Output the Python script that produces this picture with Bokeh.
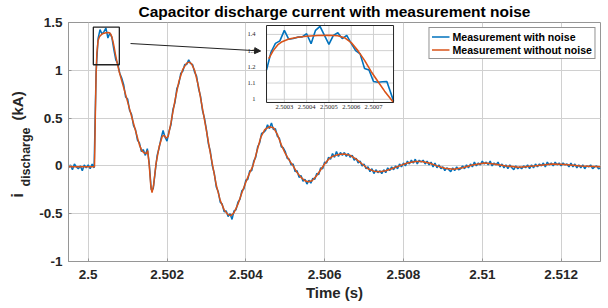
import numpy as np
from bokeh.plotting import figure
from bokeh.models import (Range1d, Legend, LegendItem, FixedTicker, Arrow,
                          NormalHead, Title)
from bokeh.embed import file_html
from bokeh.resources import INLINE

# ---------------- data ----------------
# noisy measurement, sampled every 0.05 ms starting at 2.4995 s
t_start = 2.4995
t_step = 0.00005
i_noisy = [
    -0.02, 0.01, -0.04, 0.02, -0.01, -0.03, 0.00, -0.05, 0.01, -0.02,
    0.01, -0.03, 0.02, -0.02, 0.98, 1.33, 1.425, 1.38, 1.404, 1.44,
    1.338, 1.39, 1.345, 1.22, 1.11, 1.07, 0.97, 0.92, 0.85, 0.72,
    0.70, 0.58, 0.54, 0.42, 0.38, 0.27, 0.24, 0.15, 0.17, 0.11,
    0.18, 0.02, -0.25, -0.24, -0.06, 0.11, 0.19, 0.29, 0.37, 0.30,
    0.26, 0.36, 0.43, 0.59, 0.66, 0.81, 0.86, 0.97, 0.99, 1.06,
    1.06, 1.11, 1.07, 1.06, 0.98, 0.94, 0.81, 0.73, 0.58, 0.50,
    0.38, 0.23, 0.15, 0.00, -0.08, -0.22, -0.27, -0.38, -0.40, -0.48,
    -0.47, -0.53, -0.50, -0.56, -0.47, -0.46, -0.38, -0.35, -0.26, -0.24,
    -0.15, -0.14, -0.05, -0.05, 0.05, 0.09, 0.20, 0.24, 0.34, 0.35,
    0.37, 0.43, 0.39, 0.45, 0.38, 0.39, 0.31, 0.29, 0.20, 0.19,
    0.15, 0.08, 0.07, 0.01, 0.02, -0.06, -0.05, -0.12, -0.10, -0.16,
    -0.14, -0.19, -0.15, -0.18, -0.13, -0.14, -0.08, -0.09, -0.02, -0.03,
    0.04, 0.03, 0.09, 0.07, 0.13, 0.09, 0.15, 0.10, 0.14, 0.11,
    0.14, 0.10, 0.13, 0.09, 0.11, 0.06, 0.08, 0.03, 0.05, 0.00,
    0.02, -0.03, -0.01, -0.06, -0.03, -0.08, -0.04, -0.07, -0.05, -0.08,
    -0.04, -0.07, -0.02, -0.05, -0.01, -0.04, 0.00, -0.03, 0.02, -0.01,
    0.03, 0.00, 0.05, 0.02, 0.06, 0.03, 0.07, 0.02, 0.06, 0.04,
    0.06, 0.02, 0.05, 0.01, 0.04, -0.01, 0.03, -0.02, 0.01, -0.03,
    -0.01, -0.05, -0.02, -0.04, -0.06, -0.02, -0.05, -0.01, -0.04, -0.03,
    0.00, -0.03, 0.01, -0.02, 0.02, -0.01, 0.04, 0.00, 0.03, 0.01,
    0.05, 0.02, 0.04, 0.01, 0.05, 0.00, 0.03, 0.01, 0.04, -0.01,
    0.02, -0.02, 0.01, -0.03, 0.01, -0.02, -0.04, 0.00, -0.03, -0.01,
    -0.03, 0.00, -0.02, 0.01, -0.03, 0.01, -0.02, 0.02, -0.01, 0.02,
    0.00, 0.03, -0.01, 0.04, 0.01, 0.03, 0.00, 0.04, 0.01, 0.03,
    0.00, 0.03, 0.01, 0.02, -0.01, 0.03, -0.01, 0.02, -0.02, 0.01,
    -0.02, 0.01, -0.03, 0.00, -0.01, 0.01, -0.03, -0.01, 0.00, -0.03,
    -0.02,
]

# noise-free measurement: time (ms after 2.5 s) and current (kA)
t_clean_ms = [
    -0.5, 0.16, 0.18, 0.20, 0.22, 0.25, 0.29, 0.36, 0.45, 0.50, 0.54, 0.57,
    0.60, 0.63, 0.66, 0.69, 0.72, 0.75, 0.79, 0.9, 1.0, 1.1, 1.2, 1.3, 1.36,
    1.42, 1.48, 1.51, 1.55, 1.59, 1.62, 1.66, 1.72, 1.8, 1.88, 1.93, 1.98,
    2.03, 2.1, 2.2, 2.3, 2.4, 2.5, 2.56, 2.62, 2.7, 2.8, 2.9, 3.0, 3.1, 3.16,
    3.25, 3.35, 3.45, 3.55, 3.62, 3.7, 3.8, 3.9, 4.0, 4.1, 4.18, 4.28, 4.38,
    4.48, 4.6, 4.7, 4.8, 4.9, 5.0, 5.1, 5.2, 5.3, 5.4, 5.5, 5.58, 5.68, 5.8,
    5.9, 6.0, 6.1, 6.2, 6.35, 6.5, 6.65, 6.8, 6.95, 7.1, 7.25, 7.4, 7.55,
    7.7, 7.9, 8.1, 8.3, 8.46, 8.65, 8.85, 9.05, 9.27, 9.5, 9.75, 10.06,
    10.3, 10.6, 10.93, 11.3, 11.77, 12.1, 12.5, 13.0,
]
i_clean = [
    -0.01, -0.01, 0.5, 0.95, 1.18, 1.31, 1.355, 1.383, 1.393, 1.395, 1.392, 1.38,
    1.35, 1.30, 1.24, 1.17, 1.11, 1.05, 0.98, 0.82, 0.67, 0.52, 0.37, 0.22, 0.16,
    0.135, 0.13, 0.16, 0.0, -0.22, -0.28, -0.2, 0.02, 0.2, 0.31, 0.32, 0.29,
    0.31, 0.45, 0.68, 0.88, 1.01, 1.075, 1.085, 1.07, 1.0, 0.83, 0.6, 0.37, 0.13, 0.0,
    -0.2, -0.36, -0.46, -0.51, -0.52, -0.49, -0.4, -0.28, -0.17, -0.07, 0.0, 0.15, 0.3,
    0.38, 0.41, 0.4, 0.33, 0.22, 0.13, 0.06, 0.0, -0.07, -0.12, -0.155, -0.165, -0.155, -0.1,
    -0.04, 0.02, 0.07, 0.1, 0.12, 0.125, 0.11, 0.07, 0.02, -0.03, -0.055, -0.06, -0.05,
    -0.03, 0.0, 0.03, 0.045, 0.045, 0.03, 0.0, -0.025, -0.035, -0.02, 0.01, 0.03,
    0.02, 0.0, -0.015, 0.0, 0.02, 0.015, 0.0, -0.01,
]

# inset (zoom on the first peak)
t_inset_noisy = [
    2.50022, 2.50024, 2.50026, 2.50028, 2.50030, 2.50032, 2.50034, 2.50036,
    2.50038, 2.50040, 2.50042, 2.50044, 2.50046, 2.50048, 2.50050, 2.50052,
    2.50054, 2.50056, 2.50058, 2.50060, 2.50062, 2.50064, 2.50066, 2.50068,
    2.50070, 2.50072, 2.50074, 2.50076, 2.50079,
]
i_inset_noisy = [
    1.18, 1.29, 1.345, 1.36, 1.425, 1.37, 1.375, 1.383, 1.385, 1.404, 1.343,
    1.425, 1.45, 1.394, 1.338, 1.394, 1.41, 1.374, 1.394, 1.345, 1.30, 1.28,
    1.19, 1.18, 1.11, 1.105, 1.108, 1.11, 0.99,
]
t_inset_clean = [
    2.50023, 2.50025, 2.50027, 2.50029, 2.50032, 2.50036, 2.50040, 2.50045,
    2.50050, 2.50054, 2.50057, 2.50060, 2.50063, 2.50066, 2.50069, 2.50072,
    2.50075, 2.50079,
]
i_inset_clean = [
    1.25, 1.30, 1.335, 1.355, 1.372, 1.383, 1.389, 1.393, 1.395, 1.392, 1.38,
    1.35, 1.30, 1.24, 1.17, 1.11, 1.05, 0.98,
]

x_ticks = [2.5, 2.502, 2.504, 2.506, 2.508, 2.51, 2.512]
x_tick_labels = ["2.5", "2.502", "2.504", "2.506", "2.508", "2.51", "2.512"]
y_ticks = [-1, -0.5, 0, 0.5, 1, 1.5]
y_tick_labels = ["-1", "-0.5", "0", "0.5", "1", "1.5"]
inset_x_range = (2.50022, 2.50079)
inset_y_range = (0.98, 1.455)
inset_x_ticks = [2.5003, 2.5004, 2.5005, 2.5006, 2.5007]
inset_x_labels = ["2.5003", "2.5004", "2.5005", "2.5006", "2.5007"]
inset_y_ticks = [1, 1.1, 1.2, 1.3, 1.4]
inset_y_labels = ["1", "1.1", "1.2", "1.3", "1.4"]

zoom_box_x = [2.50013, 2.50079]
zoom_box_y = [1.058, 1.451]
arrow_from = (2.501074, 1.28)
arrow_to = (2.504376, 1.202)

series_names = ["Measurement with noise", "Measurement without noise"]
title_text = "Capacitor discharge current with measurement noise"

# ---------------- styling ----------------
BLUE = "#0072BD"
ORANGE = "#D95319"
FONT = "Liberation Sans"
AXC = "#262626"
FRAME = "#969696"
GRID = "#d0d0d0"

t_noisy = [round(t_start + t_step * k, 6) for k in range(len(i_noisy))]
t_clean = [2.5 + v / 1000.0 for v in t_clean_ms]

p = figure(width=608, height=308, x_range=Range1d(2.4995, 2.513),
           y_range=Range1d(-1, 1.5), output_backend="svg", toolbar_location=None,
           min_border_left=68, min_border_right=8, min_border_top=22,
           min_border_bottom=47, outline_line_color=FRAME, background_fill_color="white")

p.title.text = title_text
p.title.text_font = FONT
p.title.text_font_style = "bold"
p.title.text_font_size = "15.5px"
p.title.text_color = "black"
p.title.align = "center"
p.title.vertical_align = "top"
p.title.standoff = 2

r_noisy = p.line(t_noisy, i_noisy, line_color=BLUE, line_width=1.5)
r_clean = p.line(t_clean, i_clean, line_color=ORANGE, line_width=1.5)

p.quad(left=[zoom_box_x[0]], right=[zoom_box_x[1]], bottom=[zoom_box_y[0]],
       top=[zoom_box_y[1]], fill_color=None, line_color="#222222", line_width=1.3)
p.add_layout(Arrow(end=NormalHead(size=6, fill_color="#222222", line_color="#222222"),
                   x_start=arrow_from[0], y_start=arrow_from[1],
                   x_end=arrow_to[0], y_end=arrow_to[1],
                   line_color="#222222", line_width=1))

for ax in (p.xaxis[0], p.yaxis[0]):
    ax.axis_line_color = FRAME
    ax.major_tick_line_color = FRAME
    ax.major_tick_in = 3
    ax.major_tick_out = 0
    ax.minor_tick_line_color = None
    ax.major_label_text_font = FONT
    ax.major_label_text_font_style = "bold"
    ax.major_label_text_font_size = "13.5px"
    ax.major_label_text_color = AXC

p.xaxis.ticker = FixedTicker(ticks=x_ticks)
p.xaxis.major_label_overrides = dict(zip(x_ticks, x_tick_labels))
p.xaxis.major_label_standoff = 8
p.xaxis.axis_label = "Time (s)"
p.xaxis.axis_label_text_font = FONT
p.xaxis.axis_label_text_font_style = "bold"
p.xaxis.axis_label_text_font_size = "15px"
p.xaxis.axis_label_text_color = AXC
p.xaxis.axis_label_standoff = 2

p.yaxis.ticker = FixedTicker(ticks=y_ticks)
p.yaxis.major_label_overrides = dict(zip(y_ticks, y_tick_labels))
p.yaxis.major_label_standoff = 6

p.xgrid.grid_line_color = GRID
p.ygrid.grid_line_color = GRID

# y-axis label "i_discharge (kA)" built from side-panel titles
p.add_layout(Title(text="discharge", align="left", offset=75, vertical_align="top",
                   standoff=3, text_font=FONT, text_font_style="bold",
                   text_font_size="12.5px", text_color=AXC), "left")
p.add_layout(Title(text="(kA)", align="left", offset=141, vertical_align="middle",
                   standoff=-19, text_font=FONT, text_font_style="bold",
                   text_font_size="15px", text_color=AXC), "left")
p.add_layout(Title(text="i", align="left", offset=64, vertical_align="middle",
                   standoff=-19, text_font=FONT, text_font_style="bold",
                   text_font_size="16px", text_color=AXC), "left")

legend = Legend(items=[LegendItem(label=series_names[0], renderers=[r_noisy]),
                       LegendItem(label=series_names[1], renderers=[r_clean])],
                location="top_right", margin=5, padding=2, spacing=0,
                label_text_font=FONT, label_text_font_style="bold",
                label_text_font_size="10.6px", label_text_color="black",
                label_height=13, glyph_height=13, glyph_width=18, label_standoff=3,
                border_line_color=AXC, border_line_width=1,
                background_fill_color="white", background_fill_alpha=1)
p.add_layout(legend)

# ---------------- inset (sub-coordinates placed inside the main frame) ----------------
ins = p.subplot(x_source=Range1d(*inset_x_range), y_source=Range1d(*inset_y_range),
                x_target=Range1d(2.504525, 2.507748), y_target=Range1d(0.6632, 1.4686))
ins.quad(left=[inset_x_range[0]], right=[inset_x_range[1]], bottom=[inset_y_range[0]],
         top=[inset_y_range[1]], fill_color="white", line_color=None)
ins.segment(x0=inset_x_ticks, x1=inset_x_ticks, y0=[inset_y_range[0]] * len(inset_x_ticks),
            y1=[inset_y_range[1]] * len(inset_x_ticks), line_color=GRID, line_width=1)
ins.segment(x0=[inset_x_range[0]] * len(inset_y_ticks), x1=[inset_x_range[1]] * len(inset_y_ticks),
            y0=inset_y_ticks, y1=inset_y_ticks, line_color=GRID, line_width=1)
ins.line(t_inset_noisy, i_inset_noisy, line_color=BLUE, line_width=1.6)
ins.line(t_inset_clean, i_inset_clean, line_color=ORANGE, line_width=1.6)
ins.quad(left=[inset_x_range[0]], right=[inset_x_range[1]], bottom=[inset_y_range[0]],
         top=[inset_y_range[1]], fill_color=None, line_color=AXC, line_width=1)
ins.text(x=inset_x_ticks, y=[inset_y_range[0]] * len(inset_x_ticks), text=inset_x_labels,
         y_offset=3, text_align="center", text_baseline="top", text_font_size="6.5px",
         text_color=AXC, text_font=FONT)
ins.text(x=[inset_x_range[0]] * len(inset_y_ticks), y=inset_y_ticks, text=inset_y_labels,
         x_offset=-11, text_align="right", text_baseline="middle", text_font_size="6.5px",
         text_color=AXC, text_font=FONT)

open("out.html", "w").write(file_html(p, INLINE))
